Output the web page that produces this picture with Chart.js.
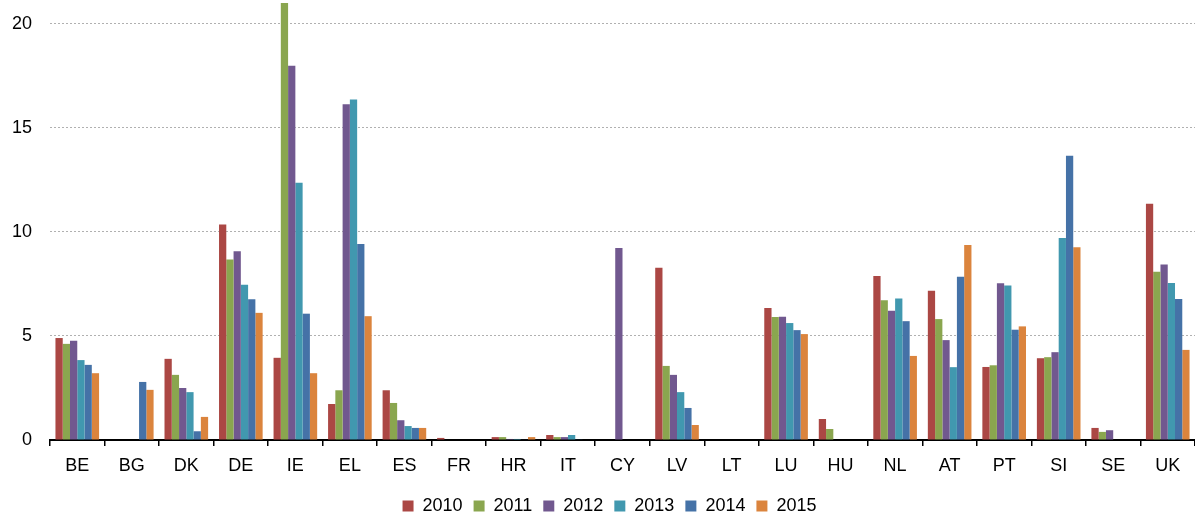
<!DOCTYPE html>
<html lang="en">

<head>
  <meta charset="UTF-8" />
  <title>Bar chart | 2010-2015</title>
  <script src="https://cdn.jsdelivr.net/npm/chart.js@4/dist/chart.umd.min.js"></script>
  <style>
    html, body { margin: 0; padding: 0; background: #fff; }
    .chart-wrapper { width: 1195px; height: 518px; }
  </style>
</head>

<body>
  <div class="chart-wrapper">
    <canvas id="bars"></canvas>
  </div>

<script>
  // categories and values
  const countries = ['BE', 'BG', 'DK', 'DE', 'IE', 'EL', 'ES', 'FR', 'HR', 'IT', 'CY',
    'LV', 'LT', 'LU', 'HU', 'NL', 'AT', 'PT', 'SI', 'SE', 'UK'];

  const y2010 = [4.90, null, 3.90, 10.35, 3.95, 1.73, 2.39, 0.10, 0.14, 0.24, null,
    8.28, null, 6.34, 1.01, 7.88, 7.17, 3.51, 3.93, 0.58, 11.35];
  const y2011 = [4.62, null, 3.13, 8.67, 21.5, 2.39, 1.78, null, 0.14, 0.14, null,
    3.56, null, 5.91, 0.53, 6.72, 5.81, 3.59, 3.98, 0.39, 8.09];
  const y2012 = [4.77, null, 2.50, 9.07, 17.99, 16.13, 0.95, null, 0.05, 0.14, 9.23,
    3.13, null, 5.92, null, 6.21, 4.80, 7.53, 4.22, 0.47, 8.43];
  const y2013 = [3.84, null, 2.30, 7.46, 12.36, 16.36, 0.67, null, 0.05, 0.24, null,
    2.30, null, 5.62, null, 6.80, 3.50, 7.43, 9.71, null, 7.54];
  const y2014 = [3.61, 2.79, 0.42, 6.76, 6.07, 9.42, 0.58, null, 0.02, 0.03, null,
    1.54, null, 5.28, null, 5.71, 7.85, 5.30, 13.66, null, 6.77];
  const y2015 = [3.21, 2.41, 1.11, 6.11, 3.21, 5.95, 0.58, null, 0.14, null, null,
    0.72, null, 5.09, null, 4.04, 9.37, 5.46, 9.26, null, 4.33];

  const yTicks = [0, 5, 10, 15, 20];

  Chart.defaults.font.family = "'Liberation Sans', Arial, sans-serif";
  Chart.defaults.font.size = 18;
  Chart.defaults.color = '#000';

  const series = [
    { label: '2010', data: y2010, color: '#ab4744' },
    { label: '2011', data: y2011, color: '#8aa64f' },
    { label: '2012', data: y2012, color: '#71588f' },
    { label: '2013', data: y2013, color: '#4198af' },
    { label: '2014', data: y2014, color: '#4572a7' },
    { label: '2015', data: y2015, color: '#db843d' }
  ];

  // legend sits a bit right of the canvas centre
  const shiftLegend = {
    id: 'shiftLegend',
    afterLayout(chart) {
      if (chart.legend) chart.legend.left += 24;
    }
  };

  new Chart(document.getElementById('bars').getContext('2d'), {
    type: 'bar',
    data: {
      labels: countries,
      datasets: series.map(s => ({
        label: s.label,
        data: s.data,
        backgroundColor: s.color,
        borderWidth: 0,
        categoryPercentage: 0.8,
        barPercentage: 1.0
      }))
    },
    plugins: [shiftLegend],
    options: {
      responsive: true,
      maintainAspectRatio: false,
      animation: false,
      layout: { autoPadding: false, padding: { top: 3, right: 0, left: 0, bottom: -7 } },
      plugins: {
        tooltip: { enabled: false },
        legend: {
          position: 'bottom',
          labels: {
            boxWidth: 11,
            boxHeight: 11,
            padding: 11
          }
        }
      },
      scales: {
        x: {
          offset: true,
          afterFit: axis => {
            axis.height = 46;
            axis.paddingLeft = 0;
            axis.paddingRight = 0;
          },
          grid: {
            offset: true,
            drawOnChartArea: false,
            drawTicks: true,
            tickLength: 6,
            color: '#000',
            lineWidth: 1.5
          },
          border: { color: '#000', width: 2 },
          ticks: { padding: 9, maxRotation: 0, autoSkip: false }
        },
        y: {
          min: 0,
          max: 21,
          afterBuildTicks: axis => {
            axis.ticks = yTicks.map(v => ({ value: v }));
          },
          afterFit: axis => {
            axis.width = 50;
            axis.paddingTop = 0;
            axis.paddingBottom = 0;
          },
          border: { display: false, dash: [2, 2] },
          grid: {
            drawTicks: false,
            color: ctx => ctx.tick && ctx.tick.value === 0 ? 'rgba(0,0,0,0)' : '#b0b0b0',
            lineWidth: 1
          },
          ticks: { padding: 18 }
        }
      }
    }
  });
</script>
</body>

</html>
